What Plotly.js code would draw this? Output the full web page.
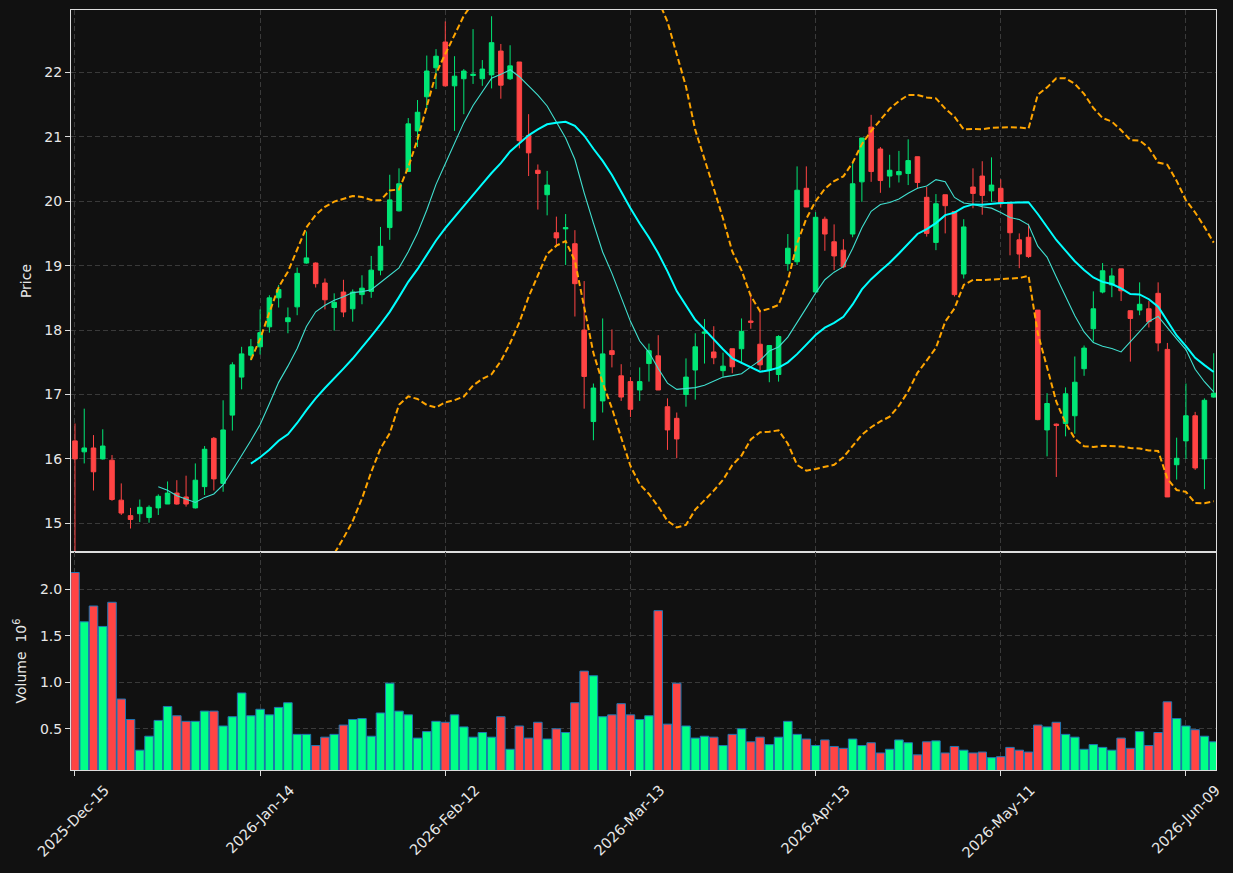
<!DOCTYPE html>
<html><head><meta charset="utf-8">
<script src="https://cdn.plot.ly/plotly-3.0.1.min.js"></script>
<style>html,body{margin:0;padding:0;background:#111111;}</style>
</head><body><div id="chart" style="width:1233px;height:873px;"></div>
<script>
const openP = [16.28,16.11,16.17,16.00,15.98,15.36,15.12,15.15,15.09,15.24,
15.30,15.47,15.41,15.24,15.57,16.32,15.62,16.68,17.27,17.61,
17.74,18.05,18.50,18.13,18.36,19.04,19.04,18.73,18.35,18.59,
18.33,18.55,18.60,18.93,19.59,19.85,20.46,21.09,21.62,22.07,
22.47,21.79,21.90,21.95,21.90,21.96,22.33,21.90,22.16,21.02,
20.48,20.10,19.51,19.57,19.34,18.00,16.58,16.90,17.68,17.29,
17.20,17.07,17.48,17.60,16.81,16.63,17.00,17.38,17.95,17.66,
17.37,17.71,17.71,18.14,17.78,17.38,17.31,19.03,19.06,20.20,
18.59,19.72,19.37,19.24,19.49,20.30,21.15,20.81,20.39,20.41,
20.43,20.69,20.06,19.36,20.10,19.84,18.87,20.22,20.39,20.16,
20.20,19.96,19.40,19.44,18.31,16.45,16.54,16.55,16.67,17.40,
18.02,18.59,18.70,18.95,18.30,18.31,18.33,18.57,17.70,15.91,
16.28,16.67,16.00,16.96];
const highP = [16.55,16.78,16.37,16.46,16.06,15.62,15.24,15.37,15.28,15.45,
15.65,15.67,15.74,15.93,16.20,16.34,16.91,17.50,17.74,17.86,
18.32,18.54,18.70,18.35,18.97,19.53,19.05,18.80,18.57,18.78,
18.63,18.85,19.15,19.60,20.41,20.51,21.29,21.57,22.26,22.36,
22.79,22.25,22.05,22.67,22.19,22.87,22.44,22.42,22.16,21.35,
20.57,20.47,19.76,19.80,19.55,18.76,17.17,18.18,18.01,17.47,
17.27,17.42,17.79,17.92,16.94,16.72,17.56,17.95,18.17,18.06,
17.65,17.71,18.18,18.57,18.31,17.76,17.92,19.49,20.54,20.54,
19.83,19.76,19.64,19.41,20.61,20.98,21.34,20.84,20.72,20.78,
20.96,20.69,20.22,20.11,20.10,19.84,19.72,20.51,20.62,20.68,
20.34,19.96,19.50,19.65,18.31,17.02,16.55,17.11,17.59,17.76,
18.60,19.04,18.96,18.95,18.30,18.74,18.45,18.74,17.80,16.33,
17.17,16.73,16.94,17.64];
const lowP = [14.50,15.93,15.51,15.99,15.35,15.13,14.92,15.02,15.01,15.13,
15.30,15.29,15.26,15.23,15.44,15.51,15.49,16.44,17.08,17.53,
17.62,17.96,18.35,17.95,18.23,19.03,18.66,18.32,17.99,18.20,
18.13,18.40,18.50,18.85,19.40,19.84,20.46,20.84,21.43,21.74,
21.78,21.09,21.35,21.82,21.79,21.75,21.59,21.88,20.82,20.39,
19.87,19.78,19.29,19.01,18.21,16.78,16.29,16.72,17.42,16.90,
16.65,16.90,17.20,17.07,16.14,16.01,16.81,16.92,17.48,17.47,
17.28,17.33,17.48,18.02,17.38,17.19,17.20,18.92,19.01,19.91,
18.59,19.23,18.93,18.96,19.44,19.99,20.30,20.13,20.21,20.29,
20.25,20.20,19.45,19.24,19.50,18.52,18.80,19.89,19.79,19.99,
19.90,19.16,18.96,19.12,16.60,16.04,15.72,16.35,16.39,17.29,
17.82,18.57,18.51,18.45,17.51,18.23,18.04,17.67,15.41,15.68,
16.00,15.83,15.53,16.95];
const closeP = [16.00,16.17,15.80,16.20,15.37,15.16,15.06,15.25,15.25,15.42,
15.47,15.30,15.30,15.67,16.15,15.69,16.45,17.46,17.63,17.74,
17.96,18.50,18.63,18.19,18.88,19.12,18.72,18.47,18.43,18.28,
18.59,18.65,18.93,19.30,20.02,20.27,21.20,21.38,22.02,22.25,
21.79,21.94,22.02,21.97,22.05,22.46,21.80,22.10,20.94,20.75,
20.43,20.25,19.43,19.59,18.72,17.28,17.10,17.63,17.62,16.96,
16.77,17.20,17.68,17.07,16.45,16.31,17.27,17.74,17.97,17.57,
17.44,17.43,17.98,18.12,17.46,17.76,17.90,19.27,20.17,19.91,
19.75,19.49,19.15,18.98,20.27,20.98,20.46,20.32,20.48,20.46,
20.63,20.29,19.50,19.96,19.93,18.55,19.60,20.12,20.09,20.25,
19.96,19.51,19.18,19.14,16.61,16.86,16.52,17.01,17.19,17.72,
18.33,18.92,18.84,18.61,18.18,18.40,18.13,17.80,15.41,16.01,
16.67,15.86,16.91,17.02];
// volume in millions
const volume = [2.18,1.65,1.82,1.60,1.86,0.82,0.60,0.27,0.42,0.59,
0.74,0.64,0.58,0.58,0.69,0.69,0.53,0.63,0.885,0.64,
0.71,0.65,0.73,0.78,0.44,0.44,0.32,0.41,0.44,0.54,
0.60,0.61,0.42,0.67,0.99,0.69,0.65,0.40,0.47,0.58,
0.57,0.65,0.52,0.41,0.46,0.41,0.63,0.28,0.53,0.40,
0.57,0.39,0.50,0.46,0.78,1.12,1.07,0.63,0.65,0.77,
0.65,0.60,0.64,1.77,0.55,0.99,0.53,0.40,0.42,0.41,
0.32,0.44,0.50,0.36,0.41,0.33,0.41,0.58,0.44,0.39,
0.32,0.38,0.31,0.29,0.39,0.32,0.35,0.24,0.28,0.38,
0.35,0.22,0.36,0.37,0.24,0.31,0.27,0.24,0.25,0.19,
0.20,0.30,0.27,0.25,0.54,0.52,0.57,0.44,0.41,0.28,
0.33,0.30,0.27,0.40,0.29,0.47,0.32,0.46,0.79,0.61,
0.53,0.49,0.42,0.36];
const tickIdx = [0,20,40,60,80,100,120];
const tickLabels = ['2025-Dec-15','2026-Jan-14','2026-Feb-12','2026-Mar-13','2026-Apr-13','2026-May-11','2026-Jun-09'];

const idx = closeP.map((_, i) => i);

function sma(arr, n) {
  return arr.map((_, i) => {
    if (i < n - 1) return null;
    let s = 0; for (let j = i - n + 1; j <= i; j++) s += arr[j];
    return s / n;
  });
}
function band(arr, n, k) {
  const m = sma(arr, n);
  return arr.map((_, i) => {
    if (i < n - 1) return null;
    let v = 0; for (let j = i - n + 1; j <= i; j++) v += (arr[j] - m[i]) ** 2;
    return m[i] + k * Math.sqrt(v / n);
  });
}
const ma10 = sma(closeP, 10);
const ma20 = sma(closeP, 20);
const bbUp = band(closeP, 20, 2);
const bbLo = band(closeP, 20, -2);

const UP = '#00e676', DOWN = '#ff4444';
const VUP = '#00ff88', VDOWN = '#ff4444';
const volColors = closeP.map((c, i) => c >= openP[i] ? VUP : VDOWN);

const FONT = 'DejaVu Sans, sans-serif';
const TXT = '#e8e8e8';
const GRID = '#3a3a3a';

const traces = [
  {type: 'candlestick', x: idx, open: openP, high: highP, low: lowP, close: closeP,
   xaxis: 'x', yaxis: 'y',
   increasing: {line: {color: UP, width: 1}, fillcolor: UP},
   decreasing: {line: {color: DOWN, width: 1}, fillcolor: DOWN},
   whiskerwidth: 0, showlegend: false, hoverinfo: 'skip'},
  {type: 'scatter', mode: 'lines', x: idx, y: ma10, xaxis: 'x', yaxis: 'y',
   line: {color: '#40e0d0', width: 1.1}, showlegend: false, hoverinfo: 'skip'},
  {type: 'scatter', mode: 'lines', x: idx, y: ma20, xaxis: 'x', yaxis: 'y',
   line: {color: '#00ffff', width: 2}, showlegend: false, hoverinfo: 'skip'},
  {type: 'scatter', mode: 'lines', x: idx, y: bbUp, xaxis: 'x', yaxis: 'y',
   line: {color: '#ffa500', width: 2, dash: '6px,3px'}, showlegend: false, hoverinfo: 'skip'},
  {type: 'scatter', mode: 'lines', x: idx, y: bbLo, xaxis: 'x', yaxis: 'y',
   line: {color: '#ffa500', width: 2, dash: '6px,3px'}, showlegend: false, hoverinfo: 'skip'},
  {type: 'bar', x: idx, y: volume, xaxis: 'x2', yaxis: 'y2', width: 0.92,
   marker: {color: volColors, line: {color: '#1f77b4', width: 1}},
   showlegend: false, hoverinfo: 'skip'}
];

const xCommon = {
  range: [-0.43, 123.25], tickmode: 'array', tickvals: tickIdx,
  showgrid: true, gridcolor: GRID, griddash: '5px,3px', gridwidth: 1,
  showline: true, mirror: true, linecolor: '#dddddd', linewidth: 1,
  zeroline: false, color: TXT
};
const layout = {
  width: 1233, height: 873,
  margin: {l: 71, r: 17, t: 10, b: 103},
  paper_bgcolor: '#111111', plot_bgcolor: '#111111',
  font: {family: FONT, color: TXT, size: 14},
  hovermode: false, showlegend: false,
  xaxis: Object.assign({}, xCommon, {
    anchor: 'y', domain: [0, 1], ticktext: tickLabels, showticklabels: false,
    ticks: '', rangeslider: {visible: false}
  }),
  xaxis2: Object.assign({}, xCommon, {
    anchor: 'y2', domain: [0, 1], matches: 'x', ticktext: tickLabels,
    ticks: 'outside', ticklen: 5, tickcolor: '#dddddd',
    tickangle: -45, ticklabelshift: 30, ticklabelstandoff: 0,
    tickfont: {family: FONT, color: TXT, size: 14.5}
  }),
  yaxis: {
    anchor: 'x', domain: [0.2868, 1], range: [14.555, 22.967],
    tickmode: 'array', tickvals: [15,16,17,18,19,20,21,22],
    ticktext: ['15','16','17','18','19','20','21','22'],
    showgrid: true, gridcolor: GRID, griddash: '5px,3px', gridwidth: 1,
    showline: true, mirror: true, linecolor: '#dddddd', linewidth: 1,
    ticks: 'outside', ticklen: 5, tickcolor: '#dddddd', zeroline: false,
    tickfont: {family: FONT, color: TXT, size: 14},
    title: {text: 'Price', font: {family: FONT, color: TXT, size: 14}, standoff: 9}
  },
  yaxis2: {
    anchor: 'x2', domain: [0, 0.2868], range: [0.057, 2.4],
    tickmode: 'array', tickvals: [0.5, 1.0, 1.5, 2.0], ticktext: ['0.5','1.0','1.5','2.0'],
    showgrid: true, gridcolor: GRID, griddash: '5px,3px', gridwidth: 1,
    showline: true, mirror: true, linecolor: '#dddddd', linewidth: 1,
    ticks: 'outside', ticklen: 5, tickcolor: '#dddddd', zeroline: false,
    tickfont: {family: FONT, color: TXT, size: 14},
    title: {text: 'Volume  10<sup>6</sup>', font: {family: FONT, color: TXT, size: 14}, standoff: 10}
  }
};

Plotly.newPlot('chart', traces, layout, {displayModeBar: false, staticPlot: true});
</script>
</body></html>
